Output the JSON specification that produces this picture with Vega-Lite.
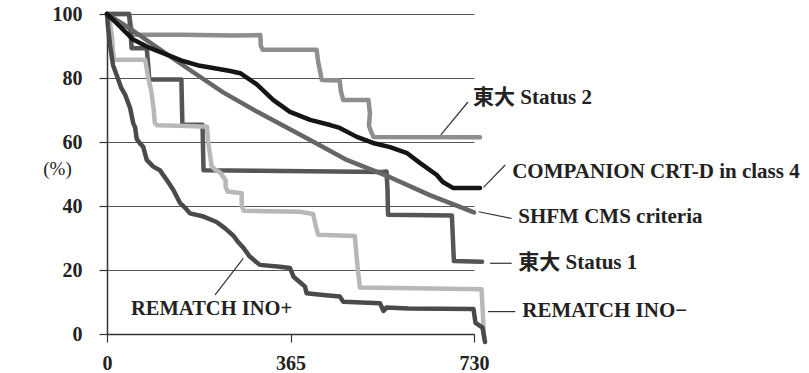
{
  "$schema": "https://vega.github.io/schema/vega-lite/v6.json",
  "width": 367,
  "height": 320,
  "autosize": {"type": "none"},
  "padding": {"left": 107, "top": 14, "right": 335, "bottom": 39},
  "background": "white",
  "config": {
    "view": {"stroke": null},
    "font": "Liberation Serif",
    "axis": {
      "labelFont": "Liberation Serif",
      "labelFontWeight": "bold",
      "labelFontSize": 20,
      "labelColor": "#222",
      "domainColor": "#333",
      "domainWidth": 1.5,
      "tickColor": "#333",
      "tickWidth": 1.2,
      "tickSize": 8,
      "gridColor": "#555",
      "gridWidth": 1,
      "gridOpacity": 1
    }
  },
  "datasets": {
    "lines": [
      {"s":"S2","i":0,"d":0,"p":100},{"s":"S2","i":1,"d":44,"p":100},{"s":"S2","i":2,"d":48,"p":96},{"s":"S2","i":3,"d":50,"p":93.5},{"s":"S2","i":4,"d":150,"p":93.5},{"s":"S2","i":5,"d":250,"p":93.3},{"s":"S2","i":6,"d":305,"p":93.4},{"s":"S2","i":7,"d":306,"p":90},{"s":"S2","i":8,"d":310,"p":88.8},{"s":"S2","i":9,"d":417,"p":88.8},{"s":"S2","i":10,"d":420,"p":85},{"s":"S2","i":11,"d":424,"p":82},{"s":"S2","i":12,"d":427,"p":79.4},{"s":"S2","i":13,"d":463,"p":79.2},{"s":"S2","i":14,"d":465,"p":76},{"s":"S2","i":15,"d":470,"p":73.1},{"s":"S2","i":16,"d":520,"p":73.1},{"s":"S2","i":17,"d":523,"p":69},{"s":"S2","i":18,"d":521,"p":65},{"s":"S2","i":19,"d":526,"p":63},{"s":"S2","i":20,"d":530,"p":61.6},{"s":"S2","i":21,"d":742,"p":61.5},
      {"s":"S1","i":0,"d":0,"p":100},{"s":"S1","i":1,"d":44,"p":100},{"s":"S1","i":2,"d":47,"p":94},{"s":"S1","i":3,"d":49,"p":89.3},{"s":"S1","i":4,"d":79,"p":89.3},{"s":"S1","i":5,"d":82,"p":84},{"s":"S1","i":6,"d":84,"p":79.5},{"s":"S1","i":7,"d":148,"p":79.5},{"s":"S1","i":8,"d":149,"p":72},{"s":"S1","i":9,"d":150,"p":65.4},{"s":"S1","i":10,"d":190,"p":65.4},{"s":"S1","i":11,"d":191,"p":58},{"s":"S1","i":12,"d":192,"p":51.2},{"s":"S1","i":13,"d":300,"p":51},{"s":"S1","i":14,"d":450,"p":50.8},{"s":"S1","i":15,"d":549,"p":50.6},{"s":"S1","i":16,"d":556,"p":50.8},{"s":"S1","i":17,"d":558,"p":45},{"s":"S1","i":18,"d":559,"p":37.3},{"s":"S1","i":19,"d":686,"p":37},{"s":"S1","i":20,"d":688,"p":30},{"s":"S1","i":21,"d":690,"p":22.8},{"s":"S1","i":22,"d":746,"p":22.6},
      {"s":"N","i":0,"d":0,"p":100},{"s":"N","i":1,"d":5,"p":98},{"s":"N","i":2,"d":10,"p":93},{"s":"N","i":3,"d":12,"p":88},{"s":"N","i":4,"d":14,"p":85.7},{"s":"N","i":5,"d":76,"p":85.7},{"s":"N","i":6,"d":82,"p":80},{"s":"N","i":7,"d":88,"p":76},{"s":"N","i":8,"d":93,"p":70},{"s":"N","i":9,"d":95,"p":66},{"s":"N","i":10,"d":100,"p":65.2},{"s":"N","i":11,"d":160,"p":65},{"s":"N","i":12,"d":199,"p":64.8},{"s":"N","i":13,"d":201,"p":60},{"s":"N","i":14,"d":205,"p":56},{"s":"N","i":15,"d":208,"p":52.5},{"s":"N","i":16,"d":214,"p":51.5},{"s":"N","i":17,"d":225,"p":50.5},{"s":"N","i":18,"d":236,"p":48},{"s":"N","i":19,"d":236,"p":46},{"s":"N","i":20,"d":240,"p":44.5},{"s":"N","i":21,"d":268,"p":44},{"s":"N","i":22,"d":268,"p":40},{"s":"N","i":23,"d":272,"p":38.5},{"s":"N","i":24,"d":384,"p":38.2},{"s":"N","i":25,"d":410,"p":37.5},{"s":"N","i":26,"d":415,"p":34},{"s":"N","i":27,"d":420,"p":31},{"s":"N","i":28,"d":493,"p":30.6},{"s":"N","i":29,"d":496,"p":25},{"s":"N","i":30,"d":499,"p":20},{"s":"N","i":31,"d":503,"p":14.5},{"s":"N","i":32,"d":745,"p":14},{"s":"N","i":33,"d":748,"p":5},{"s":"N","i":34,"d":750,"p":-1.5},
      {"s":"F","i":0,"d":0,"p":100},{"s":"F","i":1,"d":50,"p":95},{"s":"F","i":2,"d":100,"p":89.5},{"s":"F","i":3,"d":165,"p":82.5},{"s":"F","i":4,"d":231,"p":75.5},{"s":"F","i":5,"d":298,"p":69.5},{"s":"F","i":6,"d":364,"p":64},{"s":"F","i":7,"d":404,"p":60.6},{"s":"F","i":8,"d":477,"p":54.4},{"s":"F","i":9,"d":563,"p":49},{"s":"F","i":10,"d":642,"p":43.4},{"s":"F","i":11,"d":730,"p":38},
      {"s":"P","i":0,"d":0,"p":100},{"s":"P","i":1,"d":2,"p":96},{"s":"P","i":2,"d":6,"p":90.4},{"s":"P","i":3,"d":12,"p":84},{"s":"P","i":4,"d":19,"p":81},{"s":"P","i":5,"d":28,"p":77},{"s":"P","i":6,"d":36,"p":74.8},{"s":"P","i":7,"d":46,"p":70.6},{"s":"P","i":8,"d":52,"p":66},{"s":"P","i":9,"d":56,"p":64.5},{"s":"P","i":10,"d":59,"p":61},{"s":"P","i":11,"d":66,"p":59.5},{"s":"P","i":12,"d":72,"p":58.5},{"s":"P","i":13,"d":79,"p":54.4},{"s":"P","i":14,"d":92,"p":52.3},{"s":"P","i":15,"d":105,"p":51.2},{"s":"P","i":16,"d":119,"p":48.1},{"s":"P","i":17,"d":132,"p":45},{"s":"P","i":18,"d":145,"p":41},{"s":"P","i":19,"d":155,"p":39.5},{"s":"P","i":20,"d":165,"p":37.7},{"s":"P","i":21,"d":192,"p":36.7},{"s":"P","i":22,"d":218,"p":35},{"s":"P","i":23,"d":235,"p":33},{"s":"P","i":24,"d":251,"p":30.8},{"s":"P","i":25,"d":262,"p":28.5},{"s":"P","i":26,"d":271,"p":27},{"s":"P","i":27,"d":284,"p":24.2},{"s":"P","i":28,"d":304,"p":21.6},{"s":"P","i":29,"d":344,"p":21},{"s":"P","i":30,"d":364,"p":20.6},{"s":"P","i":31,"d":371,"p":17.9},{"s":"P","i":32,"d":385,"p":16},{"s":"P","i":33,"d":394,"p":14.8},{"s":"P","i":34,"d":397,"p":12.7},{"s":"P","i":35,"d":430,"p":12.2},{"s":"P","i":36,"d":463,"p":11.7},{"s":"P","i":37,"d":470,"p":10.1},{"s":"P","i":38,"d":543,"p":9.6},{"s":"P","i":39,"d":550,"p":7.2},{"s":"P","i":40,"d":556,"p":8.3},{"s":"P","i":41,"d":600,"p":8},{"s":"P","i":42,"d":729,"p":7.8},{"s":"P","i":43,"d":733,"p":3.5},{"s":"P","i":44,"d":747,"p":2},{"s":"P","i":45,"d":752,"p":-2.5},
      {"s":"C","i":0,"d":0,"p":100},{"s":"C","i":1,"d":20,"p":97},{"s":"C","i":2,"d":52,"p":92},{"s":"C","i":3,"d":85,"p":89.4},{"s":"C","i":4,"d":119,"p":87.3},{"s":"C","i":5,"d":151,"p":85.3},{"s":"C","i":6,"d":185,"p":83.8},{"s":"C","i":7,"d":211,"p":83.1},{"s":"C","i":8,"d":245,"p":82.2},{"s":"C","i":9,"d":265,"p":81.5},{"s":"C","i":10,"d":298,"p":78},{"s":"C","i":11,"d":331,"p":73.1},{"s":"C","i":12,"d":364,"p":69.4},{"s":"C","i":13,"d":404,"p":66.9},{"s":"C","i":14,"d":444,"p":65.3},{"s":"C","i":15,"d":463,"p":64.4},{"s":"C","i":16,"d":497,"p":61.6},{"s":"C","i":17,"d":529,"p":59.7},{"s":"C","i":18,"d":563,"p":58.4},{"s":"C","i":19,"d":597,"p":56.5},{"s":"C","i":20,"d":623,"p":53.4},{"s":"C","i":21,"d":656,"p":49.7},{"s":"C","i":22,"d":668,"p":47.5},{"s":"C","i":23,"d":689,"p":45.6},{"s":"C","i":24,"d":742,"p":45.6}
    ],
    "labels": [
      {"t":"東大 Status 2","d":728,"p":73.8,"a":"left"},
      {"t":"COMPANION CRT-D in class 4","d":806,"p":50.7,"a":"left"},
      {"t":"SHFM CMS criteria","d":818,"p":36.7,"a":"left"},
      {"t":"東大 Status 1","d":818,"p":22.1,"a":"left"},
      {"t":"REMATCH INO−","d":826,"p":7.2,"a":"left"},
      {"t":"REMATCH INO+","d":208,"p":7.7,"a":"center"}
    ],
    "leaders": [
      {"d":664,"p":62.2,"d2":718,"p2":72.5},
      {"d":749,"p":45.8,"d2":792,"p2":52.8},
      {"d":739,"p":38.2,"d2":805,"p2":36.1},
      {"d":762,"p":22.1,"d2":805,"p2":22.1},
      {"d":758,"p":7,"d2":812,"p2":7},
      {"d":215,"p":12.2,"d2":271,"p2":23.6}
    ]
  },
  "layer": [
    {
      "data": {"name": "lines"},
      "mark": {"type": "line", "strokeJoin": "round", "strokeCap": "round", "interpolate": "linear"},
      "encoding": {
        "x": {"field": "d", "type": "quantitative", "scale": {"domain": [0, 730], "nice": false, "zero": false},
          "axis": {"values": [0, 365, 730], "title": null, "grid": false, "labelPadding": 11, "labelFlush": false}},
        "y": {"field": "p", "type": "quantitative", "scale": {"domain": [0, 100], "nice": false},
          "axis": {"values": [0, 20, 40, 60, 80, 100], "grid": true, "labelPadding": 17,
            "title": "(%)", "titleAngle": 0, "titleFont": "Liberation Serif", "titleFontWeight": "normal", "titleFontSize": 19, "titleColor": "#222",
            "titleX": -50, "titleY": 154, "titleAlign": "center", "titleBaseline": "middle"}},
        "color": {"field": "s", "type": "nominal", "legend": null,
          "scale": {"domain": ["S2", "S1", "N", "F", "P", "C"], "range": ["#8e8e8e", "#555555", "#b8b8b8", "#666666", "#4a4a4a", "#151515"]}},
        "size": {"field": "s", "type": "nominal", "legend": null,
          "scale": {"domain": ["S2", "S1", "N", "F", "P", "C"], "range": [4.5, 4.5, 4.5, 2.8, 4.5, 5]}},
        "order": {"field": "i", "type": "quantitative"}
      }
    },
    {
      "data": {"name": "leaders"},
      "mark": {"type": "rule", "color": "#333", "strokeWidth": 1.2},
      "encoding": {
        "x": {"field": "d", "type": "quantitative"},
        "y": {"field": "p", "type": "quantitative"},
        "x2": {"field": "d2"},
        "y2": {"field": "p2"}
      }
    },
    {
      "data": {"name": "labels"},
      "transform": [{"filter": "datum.a === 'left'"}],
      "mark": {"type": "text", "align": "left", "font": "Liberation Serif, Noto Sans CJK JP", "fontWeight": "bold", "fontSize": 21, "color": "#222", "baseline": "middle"},
      "encoding": {
        "x": {"field": "d", "type": "quantitative"},
        "y": {"field": "p", "type": "quantitative"},
        "text": {"field": "t"}
      }
    },
    {
      "data": {"name": "labels"},
      "transform": [{"filter": "datum.a === 'center'"}],
      "mark": {"type": "text", "align": "center", "font": "Liberation Serif", "fontWeight": "bold", "fontSize": 20.5, "color": "#222", "baseline": "middle"},
      "encoding": {
        "x": {"field": "d", "type": "quantitative"},
        "y": {"field": "p", "type": "quantitative"},
        "text": {"field": "t"}
      }
    }
  ]
}
